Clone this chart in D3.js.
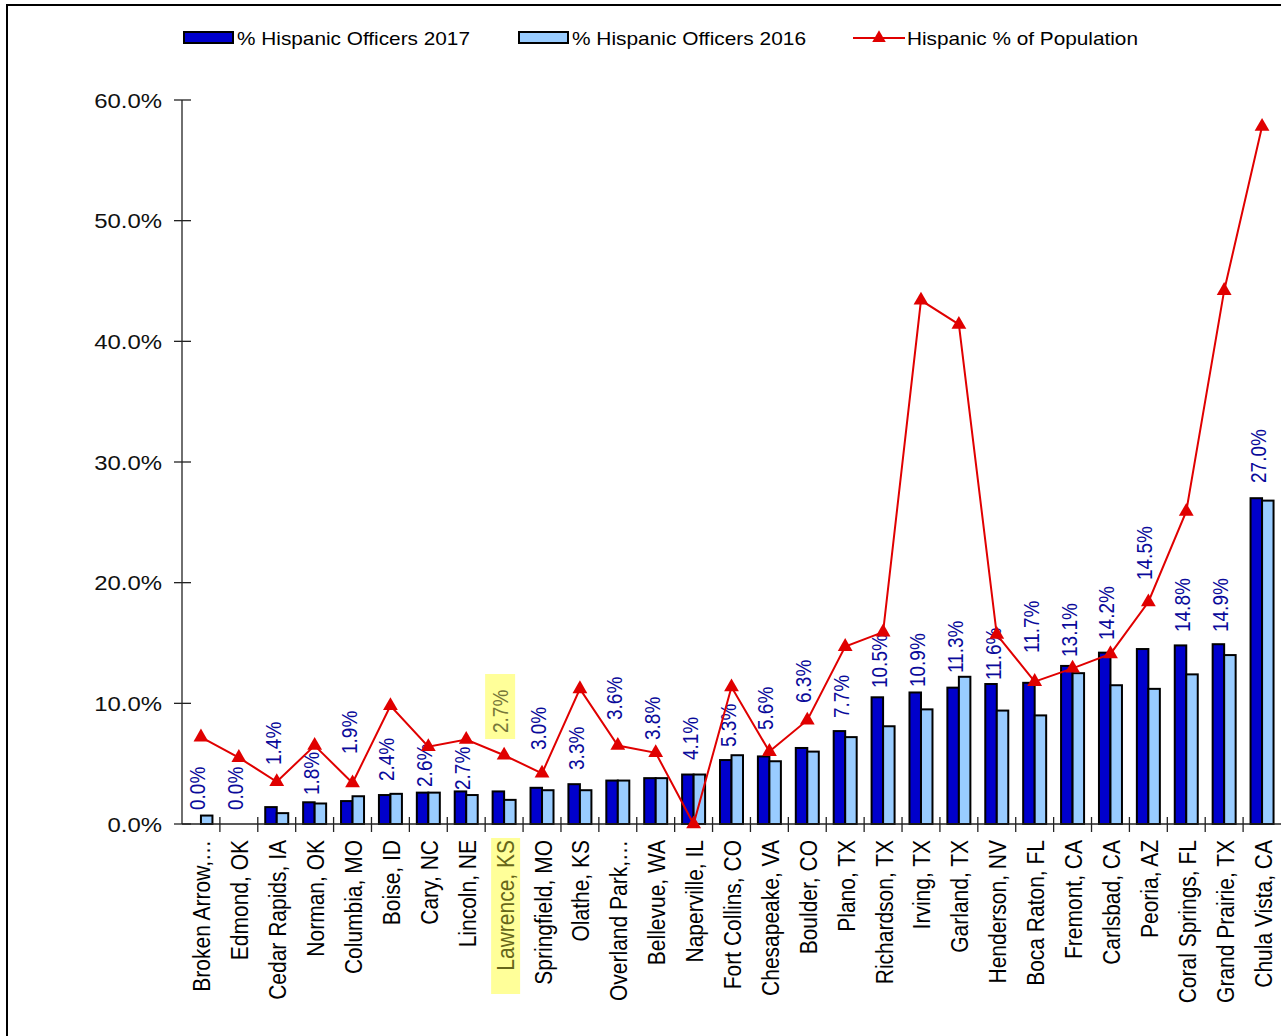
<!DOCTYPE html>
<html><head><meta charset="utf-8">
<script src="https://cdn.jsdelivr.net/npm/d3@7"></script>
<style>
body{margin:0;background:#fff}
svg{display:block;font-family:"Liberation Sans",Arial,sans-serif}
</style>
</head><body>
<svg id="c" width="1281" height="1036"></svg>
<script>
const cities = ["Broken Arrow,…","Edmond, OK","Cedar Rapids, IA","Norman, OK","Columbia, MO","Boise, ID","Cary, NC","Lincoln, NE","Lawrence, KS","Springfield, MO","Olathe, KS","Overland Park,…","Bellevue, WA","Naperville, IL","Fort Collins, CO","Chesapeake, VA","Boulder, CO","Plano, TX","Richardson, TX","Irving, TX","Garland, TX","Henderson, NV","Boca Raton, FL","Fremont, CA","Carlsbad, CA","Peoria, AZ","Coral Springs, FL","Grand Prairie, TX","Chula Vista, CA"];
const officers2017 = [0.0,0.0,1.4,1.8,1.9,2.4,2.6,2.7,2.7,3.0,3.3,3.6,3.8,4.1,5.3,5.6,6.3,7.7,10.5,10.9,11.3,11.6,11.7,13.1,14.2,14.5,14.8,14.9,27.0];
const officers2016 = [0.7,0.0,0.9,1.7,2.3,2.5,2.6,2.4,2.0,2.8,2.8,3.6,3.8,4.1,5.7,5.2,6.0,7.2,8.1,9.5,12.2,9.4,9.0,12.5,11.5,11.2,12.4,14.0,26.8];
const population = [7.2,5.5,3.5,6.5,3.4,9.8,6.4,7.0,5.7,4.2,11.2,6.5,5.9,0.0,11.35,6.0,8.6,14.7,15.9,43.4,41.4,15.7,11.8,12.9,14.1,18.4,25.9,44.2,57.8];
// value (in %) at which each data label starts, as placed in the original
const labelAt = [1.16,1.16,4.89,2.40,5.80,3.56,3.07,2.82,7.54,6.13,4.48,8.62,6.96,5.30,6.38,7.79,10.03,8.78,11.27,11.35,12.51,11.93,14.17,13.84,15.25,20.22,15.91,15.91,28.26];
const yTicks = [0,10,20,30,40,50,60];
const seriesNames = ["% Hispanic Officers 2017","% Hispanic Officers 2016","Hispanic % of Population"];
const highlightCity = "Lawrence, KS";

const svg = d3.select("#c");
const C_DARK = "#0000cc", C_LIGHT = "#99ccff", C_RED = "#e00000", C_LBL = "#0a0a9a";

// outer border
svg.append("rect").attr("x",7).attr("y",5).attr("width",1400).attr("height",1200)
  .attr("fill","none").attr("stroke","#000").attr("stroke-width",2);

const x = d3.scaleBand().domain(cities).range([182, 1281]).padding(0);
const y = d3.scaleLinear().domain([0, 60]).range([824, 100]);
const sub = d3.scaleBand().domain(["2017","2016"]).range([0, x.bandwidth()]).paddingInner(0).paddingOuter(0.648);

// bars
const rows = cities.map((c,i)=>({c, v17:officers2017[i], v16:officers2016[i], p:population[i], l:labelAt[i]}));
const g = svg.append("g");
rows.forEach(r=>{
  [["2017",r.v17,C_DARK],["2016",r.v16,C_LIGHT]].forEach(([k,v,col])=>{
    if(v<=0) return;
    g.append("rect")
      .attr("x", x(r.c)+sub(k)).attr("width", sub.bandwidth())
      .attr("y", y(v)).attr("height", y(0)-y(v))
      .attr("fill", col).attr("stroke","#000").attr("stroke-width",2);
  });
});

// axes
const yAxis = svg.append("g");
yAxis.append("line").attr("x1",182).attr("x2",182).attr("y1",y(60)).attr("y2",y(0)).attr("stroke","#222").attr("stroke-width",1.3);
yTicks.forEach(t=>{
  yAxis.append("line").attr("x1",174).attr("x2",191).attr("y1",y(t)).attr("y2",y(t)).attr("stroke","#222").attr("stroke-width",1.3);
  yAxis.append("text").attr("transform",`translate(162,${y(t)+7.5}) scale(1.14,1)`)
    .attr("text-anchor","end").attr("font-size",21).attr("fill","#111").text(d3.format(".1f")(t)+"%");
});
const xAxis = svg.append("g");
xAxis.append("line").attr("x1",182).attr("x2",1281).attr("y1",y(0)).attr("y2",y(0)).attr("stroke","#222").attr("stroke-width",1.3);
cities.forEach((c,i)=>{
  if(i>0) xAxis.append("line").attr("x1",x(c)).attr("x2",x(c)).attr("y1",y(0)-7).attr("y2",y(0)+8).attr("stroke","#222").attr("stroke-width",1.3);
  const cx = x(c)+x.bandwidth()/2+1;
  if(c===highlightCity){
    xAxis.append("rect").attr("x",cx-14).attr("y",838).attr("width",29).attr("height",156).attr("fill","#ffff99");
  }
  xAxis.append("text").attr("transform",`translate(${cx+8.5},840) scale(1.13,1) rotate(-90)`)
    .attr("text-anchor","end").attr("font-size",21)
    .attr("fill", c===highlightCity ? "#66661a" : "#000").text(c);
});

// data labels
rows.forEach(r=>{
  const cx = x(r.c)+x.bandwidth()/2-4;
  const txt = d3.format(".1f")(r.v17)+"%";
  const hl = r.c===highlightCity;
  if(hl){
    svg.append("rect").attr("x",cx-15).attr("y",y(r.l)-59).attr("width",30).attr("height",59+6).attr("fill","#ffff99");
  }
  svg.append("text").attr("transform",`translate(${cx+8},${y(r.l)}) scale(1.15,1) rotate(-90)`)
    .attr("text-anchor","start").attr("font-size",19)
    .attr("fill", hl ? "#77773a" : C_LBL).text(txt);
});

// population line
const line = d3.line().x(d=>x(d.c)+x.bandwidth()/2).y(d=>y(d.p));
svg.append("path").datum(rows).attr("d",line).attr("fill","none").attr("stroke",C_RED).attr("stroke-width",2);
const tri = d3.symbol().type(d3.symbolTriangle).size(95);
svg.selectAll(".m").data(rows).enter().append("path")
  .attr("d",tri).attr("fill",C_RED)
  .attr("transform",d=>`translate(${x(d.c)+x.bandwidth()/2},${y(d.p)})`);

// legend
const lg = svg.append("g");
const legendItems = [
  {name:seriesNames[0], kind:"bar", col:C_DARK, sx:184, tx:237, w:233},
  {name:seriesNames[1], kind:"bar", col:C_LIGHT, sx:519, tx:572, w:234},
  {name:seriesNames[2], kind:"line", col:C_RED, sx:853, tx:907, w:231}
];
legendItems.forEach(it=>{
  if(it.kind==="bar"){
    lg.append("rect").attr("x",it.sx).attr("y",32).attr("width",49).attr("height",11)
      .attr("fill",it.col).attr("stroke","#000").attr("stroke-width",2);
  } else {
    lg.append("line").attr("x1",it.sx).attr("x2",it.sx+52).attr("y1",38).attr("y2",38).attr("stroke",it.col).attr("stroke-width",2);
    lg.append("path").attr("d",d3.symbol().type(d3.symbolTriangle).size(80)).attr("fill",it.col)
      .attr("transform",`translate(${it.sx+26},38)`);
  }
  lg.append("text").attr("x",it.tx).attr("y",45).attr("font-size",19).attr("fill","#000")
    .attr("textLength",it.w).attr("lengthAdjust","spacingAndGlyphs").text(it.name);
});
</script>
</body></html>
